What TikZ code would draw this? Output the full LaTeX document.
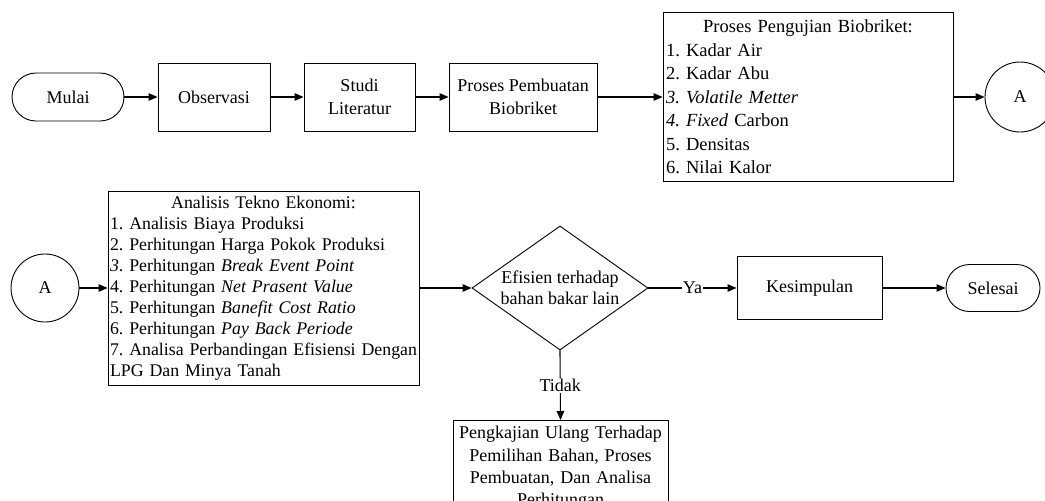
\documentclass[tikz,border=0pt]{standalone}
\usepackage{fontspec}
\setmainfont{Liberation Serif}
\usetikzlibrary{arrows.meta,shapes.geometric}
\frenchspacing
\begin{document}
\begin{tikzpicture}[x=1pt,y=-1pt,
  box/.style={draw,line width=0.9pt,rectangle,align=center,inner sep=2pt,font=\fontsize{18}{23}\selectfont},
  term/.style={box,rounded corners=#1},
  circ/.style={draw,line width=0.9pt,circle,inner sep=0pt,font=\fontsize{18}{23}\selectfont},
  listbox/.style={draw,line width=0.9pt,rectangle,align=left,inner sep=2pt},
  dec/.style={draw,line width=0.9pt,diamond,inner sep=0pt,shape aspect=1.42,align=center,font=\fontsize{18}{21}\selectfont},
  arr/.style={line width=1.1pt,-{Triangle[length=9pt,width=7.5pt]}},
  lbl/.style={fill=white,inner sep=1pt,font=\fontsize{18}{21}\selectfont}]
\useasboundingbox (0,0) rectangle (1045,501);
\clip (0,0) rectangle (1045,501);
% top row
\node[term=24pt,minimum width=112pt,minimum height=48pt] (mulai) at (68,97) {Mulai};
\node[box,minimum width=112pt,minimum height=68pt] (obs) at (214,97) {Observasi};
\node[box,minimum width=111pt,minimum height=68pt] (studi) at (359.5,97) {Studi\\Literatur};
\node[box,minimum width=148pt,minimum height=68pt] (proses) at (523,97) {Proses Pembuatan\\Biobriket};
\node[listbox,minimum width=290pt,minimum height=169pt,text width=284pt,font=\fontsize{18.5}{23.5}\selectfont] (uji) at (808,97)
  {\makebox[\linewidth]{Proses Pengujian Biobriket:}\\
   1. Kadar Air\\
   2. Kadar Abu\\
   \textit{3. Volatile Metter}\\
   \textit{4. Fixed} Carbon\\
   5. Densitas\\
   6. Nilai Kalor};
\node[circ,minimum size=70pt] (a1) at (1020,97) {A};
% second row
\node[circ,minimum size=68pt] (a2) at (45,288) {A};
\node[listbox,minimum width=311pt,minimum height=194pt,text width=307pt,font=\fontsize{17.8}{21}\selectfont] (ana) at (263.5,288)
  {\makebox[\linewidth]{Analisis Tekno Ekonomi:}\\
   1. Analisis Biaya Produksi\\
   2. Perhitungan Harga Pokok Produksi\\
   \textit{3}. Perhitungan \textit{Break Event Point}\\
   4. Perhitungan \textit{Net Prasent Value}\\
   5. Perhitungan \textit{Banefit Cost Ratio}\\
   6. Perhitungan \textit{Pay Back Periode}\\
   \mbox{7. Analisa Perbandingan Efisiensi Dengan}\\
   LPG Dan Minya Tanah};
\node[dec,minimum width=176pt,minimum height=124pt] (dec) at (560,288) {Efisien terhadap\\bahan bakar lain};
\node[box,minimum width=145pt,minimum height=63pt] (kes) at (809.5,288) {Kesimpulan};
\node[term=23.5pt,minimum width=94pt,minimum height=47pt] (sel) at (993,288) {Selesai};
\node[box,anchor=north,minimum width=215pt,minimum height=95pt,text width=209pt,font=\fontsize{18}{22.3}\selectfont] (ulang) at (560.5,420)
  {Pengkajian Ulang Terhadap\\Pemilihan Bahan, Proses\\Pembuatan, Dan Analisa\\Perhitungan};
% connectors
\draw[arr] (mulai) -- (obs);
\draw[arr] (obs) -- (studi);
\draw[arr] (studi) -- (proses);
\draw[arr] (proses) -- (uji);
\draw[arr] (uji) -- (a1);
\draw[arr] (a2) -- (ana);
\draw[arr] (ana) -- (dec);
\draw[arr] (dec) -- node[lbl] {Ya} (kes);
\draw[arr] (kes) -- (sel);
\draw[arr] (dec.south) -- node[lbl] {Tidak} (ulang.north);
\end{tikzpicture}
\end{document}
